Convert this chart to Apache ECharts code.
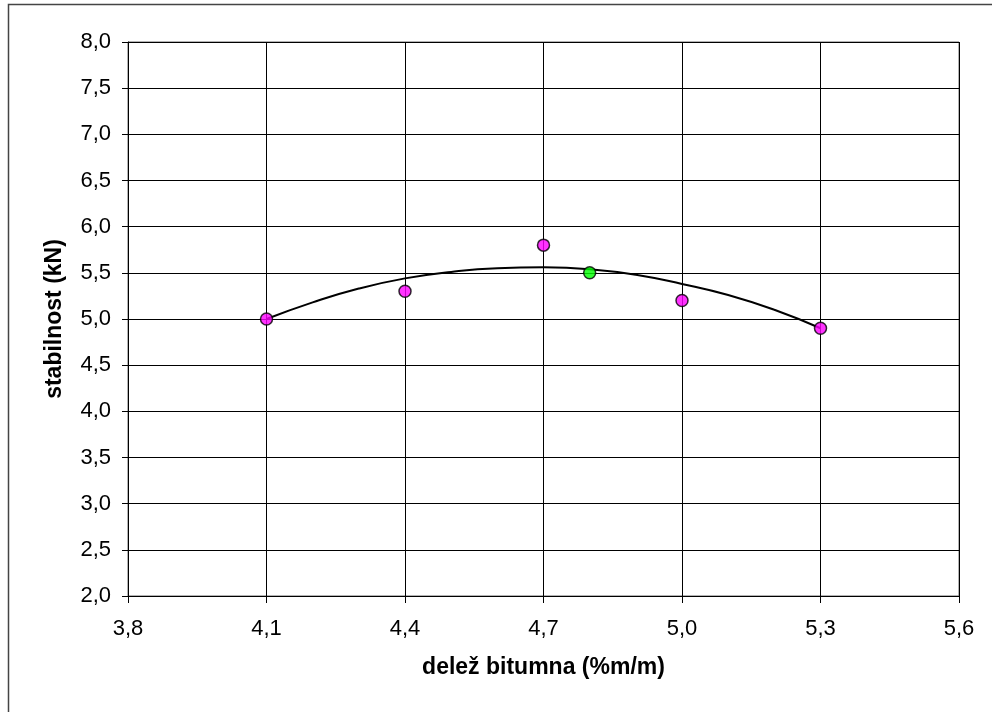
<!DOCTYPE html>
<html>
<head>
<meta charset="utf-8">
<script src="https://cdn.jsdelivr.net/npm/echarts@6/dist/echarts.min.js"></script>
<style>
html,body{margin:0;padding:0;background:#fff;}
#chart{width:992px;height:712px;}
</style>
</head>
<body>
<div id="chart"></div>
<script>
// Measured points (magenta)
const measuredX = [4.1, 4.4, 4.7, 5.0, 5.3];
const measuredY = [5.0, 5.3, 5.8, 5.2, 4.9];
// Optimum point (green)
const optimumX = [4.8];
const optimumY = [5.5];
// Trend curve
const trendX = [4.1, 4.2, 4.3, 4.4, 4.5, 4.6, 4.7, 4.8, 4.9, 5.0, 5.1, 5.2, 5.3];
const trendY = [5.00, 5.18, 5.33, 5.44, 5.51, 5.55, 5.56, 5.54, 5.48, 5.38, 5.26, 5.10, 4.90];
// Axis settings
const xMin = 3.8, xMax = 5.6, xStep = 0.3;
const yMin = 2.0, yMax = 8.0, yStep = 0.5;
const xTitle = 'delež bitumna (%m/m)';
const yTitle = 'stabilnost (kN)';

const fmt = v => v.toFixed(1).replace('.', ',');
const zip = (a, b) => a.map((v, i) => [v, b[i]]);

const chart = echarts.init(document.getElementById('chart'), null, {renderer: 'canvas'});
const font = '"Liberation Sans", Arial, sans-serif';
chart.setOption({
  animation: false,
  backgroundColor: '#fff',
  graphic: [{
    type: 'rect', silent: true,
    shape: {x: 8.5, y: 4.5, width: 1100, height: 900},
    style: {fill: 'none', stroke: '#444', lineWidth: 1.5}
  }],
  grid: {left: 128, top: 42, right: 33, bottom: 116, show: true, borderColor: '#666', borderWidth: 1},
  xAxis: {
    type: 'value', min: xMin, max: xMax, interval: xStep,
    name: xTitle, nameLocation: 'middle', nameGap: 60,
    nameTextStyle: {fontFamily: font, fontWeight: 'bold', fontSize: 23, color: '#000'},
    axisLine: {show: true, onZero: false, lineStyle: {color: '#000', width: 1}},
    axisTick: {show: true, length: 7, lineStyle: {color: '#000'}},
    axisLabel: {formatter: fmt, fontFamily: font, fontSize: 22, color: '#000', margin: 22},
    splitLine: {show: true, lineStyle: {color: '#000', width: 1}}
  },
  yAxis: {
    type: 'value', min: yMin, max: yMax, interval: yStep,
    name: yTitle, nameLocation: 'middle', nameGap: 62,
    nameTextStyle: {fontFamily: font, fontWeight: 'bold', fontSize: 23, color: '#000'},
    axisLine: {show: true, lineStyle: {color: '#000', width: 1}},
    axisTick: {show: true, length: 6, lineStyle: {color: '#000'}},
    axisLabel: {formatter: fmt, fontFamily: font, fontSize: 22, color: '#000', margin: 17},
    splitLine: {show: true, lineStyle: {color: '#000', width: 1}}
  },
  series: [
    {
      type: 'line', data: zip(trendX, trendY), smooth: true, showSymbol: false,
      lineStyle: {color: '#000', width: 2}, z: 2
    },
    {
      type: 'scatter', data: zip(measuredX, measuredY), symbol: 'circle', symbolSize: 12,
      itemStyle: {color: '#ff00ff', borderColor: '#000', borderWidth: 1.5}, z: 3
    },
    {
      type: 'scatter', data: zip(optimumX, optimumY), symbol: 'circle', symbolSize: 12,
      itemStyle: {color: '#00ff00', borderColor: '#000', borderWidth: 1.5}, z: 3
    }
  ]
});
</script>
</body>
</html>
